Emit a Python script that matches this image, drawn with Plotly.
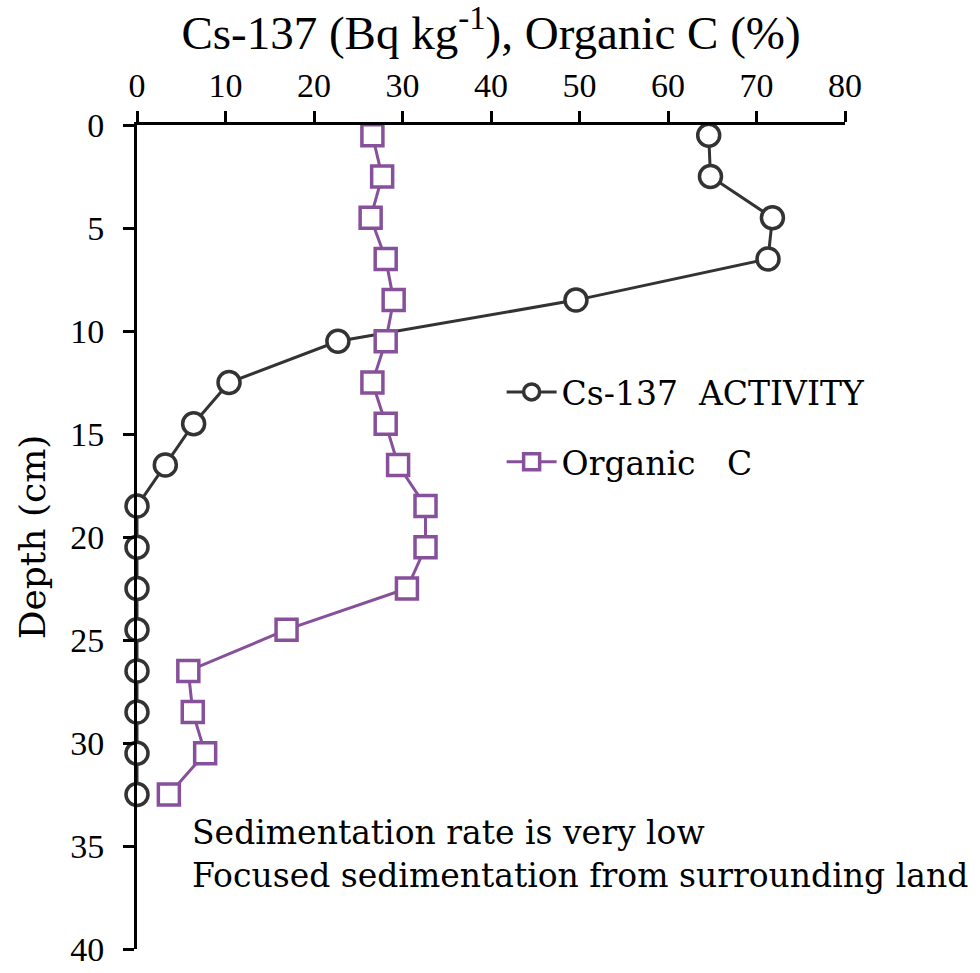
import plotly.graph_objects as go

depth = [0.5, 2.5, 4.5, 6.5, 8.5, 10.5, 12.5, 14.5, 16.5, 18.5, 20.5, 22.5, 24.5, 26.5, 28.5, 30.5, 32.5]
cs137 = [64.6, 64.8, 71.8, 71.3, 49.6, 22.7, 10.4, 6.4, 3.2, 0, 0, 0, 0, 0, 0, 0, 0]
organic_c = [26.6, 27.7, 26.4, 28.1, 29.0, 28.1, 26.6, 28.1, 29.5, 32.6, 32.6, 30.5, 16.9, 5.8, 6.3, 7.7, 3.6]

x_ticks = [0, 10, 20, 30, 40, 50, 60, 70, 80]
y_ticks = [0, 5, 10, 15, 20, 25, 30, 35, 40]

DARK = "#333333"
PURPLE = "#87509B"
SLAB = "DejaVu Serif"
SERIF = "Liberation Serif"

fig = go.Figure()
fig.add_trace(go.Scatter(
    x=cs137, y=depth, mode="lines+markers", name="Cs-137  ACTIVITY",
    legendgroup="a",
    line=dict(color=DARK, width=3),
    marker=dict(symbol="circle", size=22, color="white", line=dict(color=DARK, width=3.5)),
    cliponaxis=False,
))
fig.add_trace(go.Scatter(
    x=organic_c, y=depth, mode="lines+markers", name="Organic   C",
    legendgroup="b",
    line=dict(color=PURPLE, width=3),
    marker=dict(symbol="square", size=21, color="white", line=dict(color=PURPLE, width=3.5)),
    cliponaxis=False,
))

fig.add_annotation(
    x=6.0, y=35.4, xref="x", yref="y", xanchor="left", yanchor="middle", align="left",
    text="Sedimentation rate is very low<br>Focused sedimentation from surrounding land",
    showarrow=False, font=dict(family=SLAB, size=33, color="black"),
)

fig.update_layout(
    width=980, height=973,
    margin=dict(l=137, r=135, t=125, b=24),
    paper_bgcolor="white", plot_bgcolor="white",
    showlegend=True,
    legend=dict(
        x=0.515, y=0.71, xanchor="left", yanchor="top",
        font=dict(family=SLAB, size=33, color="black"),
        bgcolor="rgba(0,0,0,0)", traceorder="grouped", tracegroupgap=24,
        itemwidth=50,
    ),
    xaxis=dict(
        side="top", range=[0, 80], tickvals=x_ticks, ticktext=[str(v) for v in x_ticks],
        showgrid=False, zeroline=False, showline=True, linecolor="black", linewidth=3,
        ticks="outside", ticklen=11, tickwidth=3, tickcolor="black",
        tickfont=dict(family=SERIF, size=34, color="black"),
        title=dict(text="Cs-137 (Bq kg<sup>-1</sup>), Organic C (%)",
                   font=dict(family=SERIF, size=47, color="black"), standoff=10),
        automargin=False,
    ),
    yaxis=dict(
        range=[40, 0], tickvals=y_ticks, ticktext=[str(v) for v in y_ticks],
        showgrid=False, zeroline=False, showline=True, linecolor="black", linewidth=3,
        ticks="outside", ticklen=11, tickwidth=3, tickcolor="black",
        ticklabelstandoff=12,
        tickfont=dict(family=SERIF, size=34, color="black"),
        title=dict(text="Depth (cm)", font=dict(family=SLAB, size=36, color="black"), standoff=14),
        automargin=False,
    ),
)

fig.write_html("out.html")
